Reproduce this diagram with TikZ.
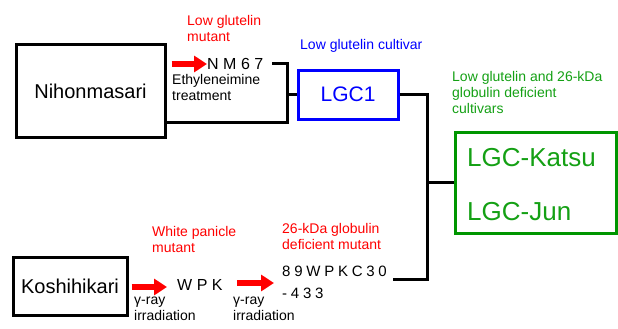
\documentclass[tikz,border=0pt]{standalone}
\usepackage{fontspec}
\setmainfont{Liberation Sans}
\usetikzlibrary{arrows.meta,calc}
\definecolor{rred}{RGB}{255,0,0}
\definecolor{rblue}{RGB}{0,0,255}
\definecolor{rgreen}{RGB}{0,150,0}
\definecolor{lgreen}{RGB}{20,160,20}
\begin{document}
\begin{tikzpicture}[x=1pt,y=-1pt,
  box/.style={draw, line width=3pt, inner sep=0pt},
  lbl/.style={inner sep=0pt, anchor=north west, align=left, font=\fontsize{14}{16}\selectfont},
  code/.style={inner sep=0pt, anchor=west, font=\fontsize{16}{17}\selectfont\addfontfeature{LetterSpace=28}},
  conn/.style={line width=3pt},
  redarrow/.style={draw=rred, line width=6pt, -{Triangle[length=13pt,width=16pt]}}]
\useasboundingbox (0,0) rectangle (618,329);
% boxes
\node[box, minimum width=149pt, minimum height=92pt, font=\fontsize{20}{22}\selectfont] (nih) at (90.5,91) {Nihonmasari};
\node[box, minimum width=114pt, minimum height=58pt, font=\fontsize{20}{22}\selectfont] (kos) at (70,286) {Koshihikari};
\node[box, draw=rblue, text=rblue, minimum width=100pt, minimum height=49pt, font=\fontsize{21}{23}\selectfont] (lgc1) at (348,94.5) {LGC1};
\node[box, draw=rgreen, minimum width=161pt, minimum height=101pt] (grn) at (535.5,182.5) {};
\node[inner sep=0pt, anchor=west, text=lgreen, font=\fontsize{26}{28}\selectfont] (katsu) at (467,158) {LGC-Katsu};
\node[inner sep=0pt, anchor=west, text=lgreen, font=\fontsize{26}{28}\selectfont] (jun) at (467,212) {LGC-Jun};
% codes
\node[code] (nm) at (207,64) {NM67};
\node[code] (wpk) at (177,285) {WPK};
\node[code, font=\fontsize{15}{16}\selectfont\addfontfeature{LetterSpace=25}] (w89) at (282,271) {89WPKC30};
\node[code, font=\fontsize{15}{16}\selectfont\addfontfeature{LetterSpace=25}] (w433) at (282,293) {-433};
% labels
\node[lbl, text=rred] (l1) at (187,15) {Low glutelin\\mutant};
\node[lbl] (l2) at (172,74) {Ethyleneimine\\treatment};
\node[lbl, text=rblue] (l3) at (300,39) {Low glutelin cultivar};
\node[lbl, text=lgreen] (l4) at (452,71) {Low glutelin and 26-kDa\\globulin deficient\\cultivars};
\node[lbl, text=rred] (l5) at (152,226) {White panicle\\mutant};
\node[lbl, text=rred] (l6) at (282,223) {26-kDa globulin\\deficient mutant};
\node[lbl] (l7) at (134,297) {γ-ray\\irradiation};
\node[lbl] (l8) at (233,297) {γ-ray\\irradiation};
% connectors
\coordinate (j1) at (287,122);
\coordinate (j2) at (427,182.5);
\coordinate (c89) at (393,279);
\draw[conn] (nih.east |- j1) -- (j1) -- (j1 |- nm.east) -- ([xshift=8pt]nm.east);
\draw[conn] (j1 |- lgc1.west) -- (lgc1.west);
\draw[conn] (lgc1.east) -- (lgc1.east -| j2) -- (j2 |- c89) -- (c89);
\draw[conn] (grn.west -| j2) -- (grn.west);
% arrows
\draw[redarrow] ([xshift=5pt]nih.east |- nm.west) -- (nm.west);
\draw[redarrow] ([xshift=3pt]kos.east |- 0,287) -- ([xshift=-10pt]wpk.west |- 0,287);
\draw[redarrow] ([xshift=14pt]wpk.east |- 0,283) -- ([xshift=-8pt]w89.west |- 0,283);
\end{tikzpicture}
\end{document}
